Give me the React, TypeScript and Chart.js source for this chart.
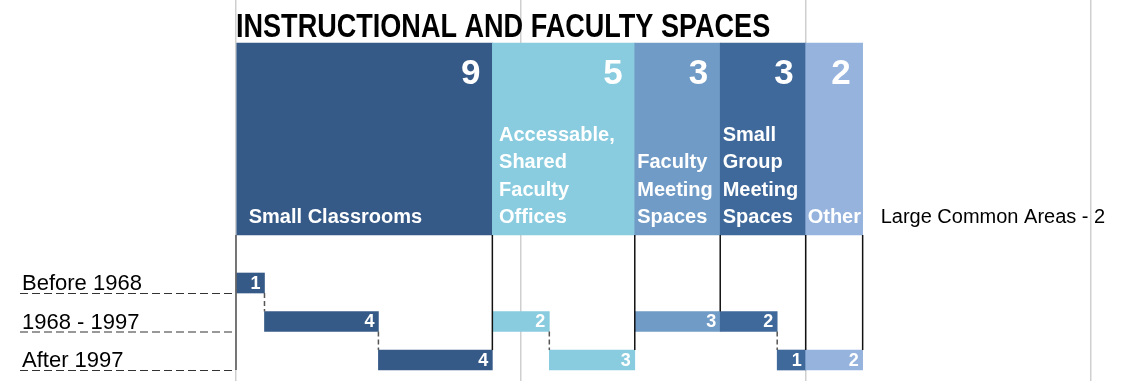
import { useEffect, useRef } from 'react';
import { Chart, registerables } from 'chart.js';

Chart.register(...registerables);

// ---------- data ----------
const TITLE = 'INSTRUCTIONAL AND FACULTY SPACES';
const CATEGORY_LINES: string[][] = [
  ['Small Classrooms'],
  ['Accessable,', 'Shared', 'Faculty', 'Offices'],
  ['Faculty', 'Meeting', 'Spaces'],
  ['Small', 'Group', 'Meeting', 'Spaces'],
  ['Other'],
];
const CATEGORY_TOTALS = [9, 5, 3, 3, 2];
const PERIODS = ['Before 1968', '1968 - 1997', 'After 1997'];
const BEFORE_1968 = [1, 0, 0, 0, 0];
const FROM_1968_TO_1997 = [4, 2, 3, 2, 0];
const AFTER_1997 = [4, 3, 0, 1, 2];
const PERIOD_VALUES = [BEFORE_1968, FROM_1968_TO_1997, AFTER_1997];
const EXTRA_LABEL = 'Large Common Areas';
const EXTRA_VALUE = 2;
const GRID_TICKS = [0, 10, 20, 30];
const COLORS = ['#365A87', '#89CCDF', '#709BC6', '#40699B', '#95B3DD'];

// ---------- layout constants ----------
const X_MAX = 31;
const Y_MIN = -6.35;
const Y_MAX = 3.545;
const TOP_ROW = -2.74;
const TOP_THICKNESS = 192;
const ROW_THICKNESS = 20;
const SANS = '"Liberation Sans", Arial, sans-serif';

const starts: number[] = [];
CATEGORY_TOTALS.reduce((acc, v) => {
  starts.push(acc);
  return acc + v;
}, 0);
const GRAND_TOTAL = CATEGORY_TOTALS.reduce((a, b) => a + b, 0);

type Seg = { x: [number, number]; y: number; cat: number; period: number; value: number };
const segments: Seg[] = [];
CATEGORY_TOTALS.forEach((_, c) => {
  let cursor = starts[c];
  PERIOD_VALUES.forEach((vals, p) => {
    const v = vals[c];
    if (v > 0) {
      segments.push({ x: [cursor, cursor + v], y: p + 1, cat: c, period: p, value: v });
      cursor += v;
    }
  });
});

const overlay = {
  id: 'overlay',
  afterDatasetsDraw(chart: any) {
    const ctx: CanvasRenderingContext2D = chart.ctx;
    const xs = chart.scales.x;
    const ys = chart.scales.y;
    const topEls = chart.getDatasetMeta(0).data;
    const b0 = topEls[0].getProps(['x', 'y', 'base', 'height'], true);
    const blockTop = b0.y - b0.height / 2;
    const blockBottom = b0.y + b0.height / 2;
    ctx.save();

    // title (condensed bold)
    ctx.fillStyle = '#000';
    ctx.textAlign = 'left';
    ctx.textBaseline = 'alphabetic';
    ctx.font = `bold 33px ${SANS}`;
    ctx.save();
    ctx.translate(xs.getPixelForValue(0), blockTop - 6);
    ctx.scale(0.82, 1);
    ctx.fillText(TITLE, 0, 0);
    ctx.restore();

    // block labels
    topEls.forEach((el: any, i: number) => {
      const p = el.getProps(['x', 'y', 'base', 'height'], true);
      ctx.fillStyle = '#fff';
      ctx.font = `bold 35px ${SANS}`;
      ctx.textAlign = 'right';
      ctx.fillText(String(CATEGORY_TOTALS[i]), p.x - 12, blockTop + 41);
      ctx.font = `bold 20px ${SANS}`;
      ctx.textAlign = 'left';
      const lines = CATEGORY_LINES[i];
      const w = p.x - p.base;
      const maxW = Math.max(...lines.map((l) => ctx.measureText(l).width));
      const pad = Math.min(12, Math.max(2, (w - maxW) / 4));
      lines.forEach((l, k) => {
        const yy = blockBottom - 12 - (lines.length - 1 - k) * 27.5;
        ctx.fillText(l, p.base + pad, yy);
      });
    });

    // extra label
    ctx.fillStyle = '#000';
    ctx.font = `20px ${SANS}`;
    ctx.textAlign = 'left';
    ctx.fillText(`${EXTRA_LABEL} - ${EXTRA_VALUE}`, xs.getPixelForValue(GRAND_TOTAL) + 18, blockBottom - 12);

    // row labels + dashed leaders
    const x0 = xs.getPixelForValue(0);
    PERIODS.forEach((lab, p) => {
      const bottom = ys.getPixelForValue(p + 1) + ROW_THICKNESS / 2;
      ctx.fillStyle = '#000';
      ctx.font = `22px ${SANS}`;
      ctx.fillText(lab, 22, bottom - 3);
      ctx.strokeStyle = '#333';
      ctx.lineWidth = 1.2;
      ctx.setLineDash([8, 4]);
      ctx.beginPath();
      ctx.moveTo(20, bottom + 0.5);
      ctx.lineTo(x0, bottom + 0.5);
      ctx.stroke();
    });
    ctx.setLineDash([]);

    // axis line at zero
    const lastBottom = ys.getPixelForValue(PERIODS.length) + ROW_THICKNESS / 2;
    ctx.strokeStyle = '#555';
    ctx.lineWidth = 1.5;
    ctx.beginPath();
    ctx.moveTo(x0, blockBottom);
    ctx.lineTo(x0, lastBottom);
    ctx.stroke();

    // connectors at category ends
    CATEGORY_TOTALS.forEach((_, c) => {
      const segs = segments.filter((s) => s.cat === c);
      const last = segs[segs.length - 1];
      const xe = xs.getPixelForValue(starts[c] + CATEGORY_TOTALS[c]);
      ctx.strokeStyle = '#111';
      ctx.lineWidth = 1.5;
      ctx.setLineDash([]);
      ctx.beginPath();
      ctx.moveTo(xe, blockBottom);
      ctx.lineTo(xe, ys.getPixelForValue(last.y) - ROW_THICKNESS / 2);
      ctx.stroke();
      for (let k = 1; k < segs.length; k++) {
        const a = segs[k - 1];
        const b = segs[k];
        const xx = xs.getPixelForValue(a.x[1]);
        ctx.strokeStyle = '#555';
        ctx.setLineDash([5, 3]);
        ctx.beginPath();
        ctx.moveTo(xx, ys.getPixelForValue(a.y) + ROW_THICKNESS / 2);
        ctx.lineTo(xx, ys.getPixelForValue(b.y) - ROW_THICKNESS / 2);
        ctx.stroke();
      }
    });
    ctx.setLineDash([]);

    // bar value labels
    for (let d = 1; d < chart.data.datasets.length; d++) {
      const meta = chart.getDatasetMeta(d);
      meta.data.forEach((el: any, i: number) => {
        const raw = chart.data.datasets[d].data[i] as Seg;
        const p = el.getProps(['x', 'y'], true);
        ctx.fillStyle = '#fff';
        ctx.font = `bold 18px ${SANS}`;
        ctx.textAlign = 'right';
        ctx.textBaseline = 'middle';
        ctx.fillText(String(raw.value), p.x - 4, p.y + 1);
      });
    }
    ctx.restore();
  },
};

export default function App() {
  const ref = useRef<HTMLCanvasElement>(null);
  useEffect(() => {
    document.body.style.margin = '0';
    if (!ref.current) return;
    const datasets: any[] = [
      {
        data: CATEGORY_TOTALS.map((v, i) => ({ x: [starts[i], starts[i] + v], y: TOP_ROW })),
        backgroundColor: COLORS,
        barThickness: TOP_THICKNESS,
        stack: 'all',
        borderWidth: 0,
      },
      ...PERIODS.map((_, p) => {
        const segs = segments.filter((s) => s.period === p);
        return {
          data: segs,
          backgroundColor: segs.map((s) => COLORS[s.cat]),
          barThickness: ROW_THICKNESS,
          stack: 'all',
          borderWidth: 0,
        };
      }),
    ];
    const chart = new Chart(ref.current, {
      type: 'bar',
      data: { datasets },
      options: {
        indexAxis: 'y',
        animation: false,
        responsive: false,
        layout: { padding: { left: 236, right: 2, top: 0, bottom: 0 } },
        scales: {
          x: {
            type: 'linear',
            min: 0,
            max: X_MAX,
            stacked: false,
            offset: false,
            position: 'top',
            ticks: { display: false },
            grid: { color: '#cfcfcf', lineWidth: 1.5, drawTicks: false, offset: false },
            border: { display: false },
            afterBuildTicks: (s: any) => {
              s.ticks = GRID_TICKS.map((v) => ({ value: v }));
            },
          },
          y: {
            type: 'linear',
            reverse: true,
            min: Y_MIN,
            max: Y_MAX,
            offset: false,
            display: false,
            grid: { offset: false },
          },
        },
        plugins: { legend: { display: false }, tooltip: { enabled: false } },
      } as any,
      plugins: [overlay],
    });
    return () => chart.destroy();
  }, []);
  return (
    <div style={{ width: 1121, height: 381 }}>
      <canvas ref={ref} width={1121} height={381} style={{ display: 'block' }} />
    </div>
  );
}
